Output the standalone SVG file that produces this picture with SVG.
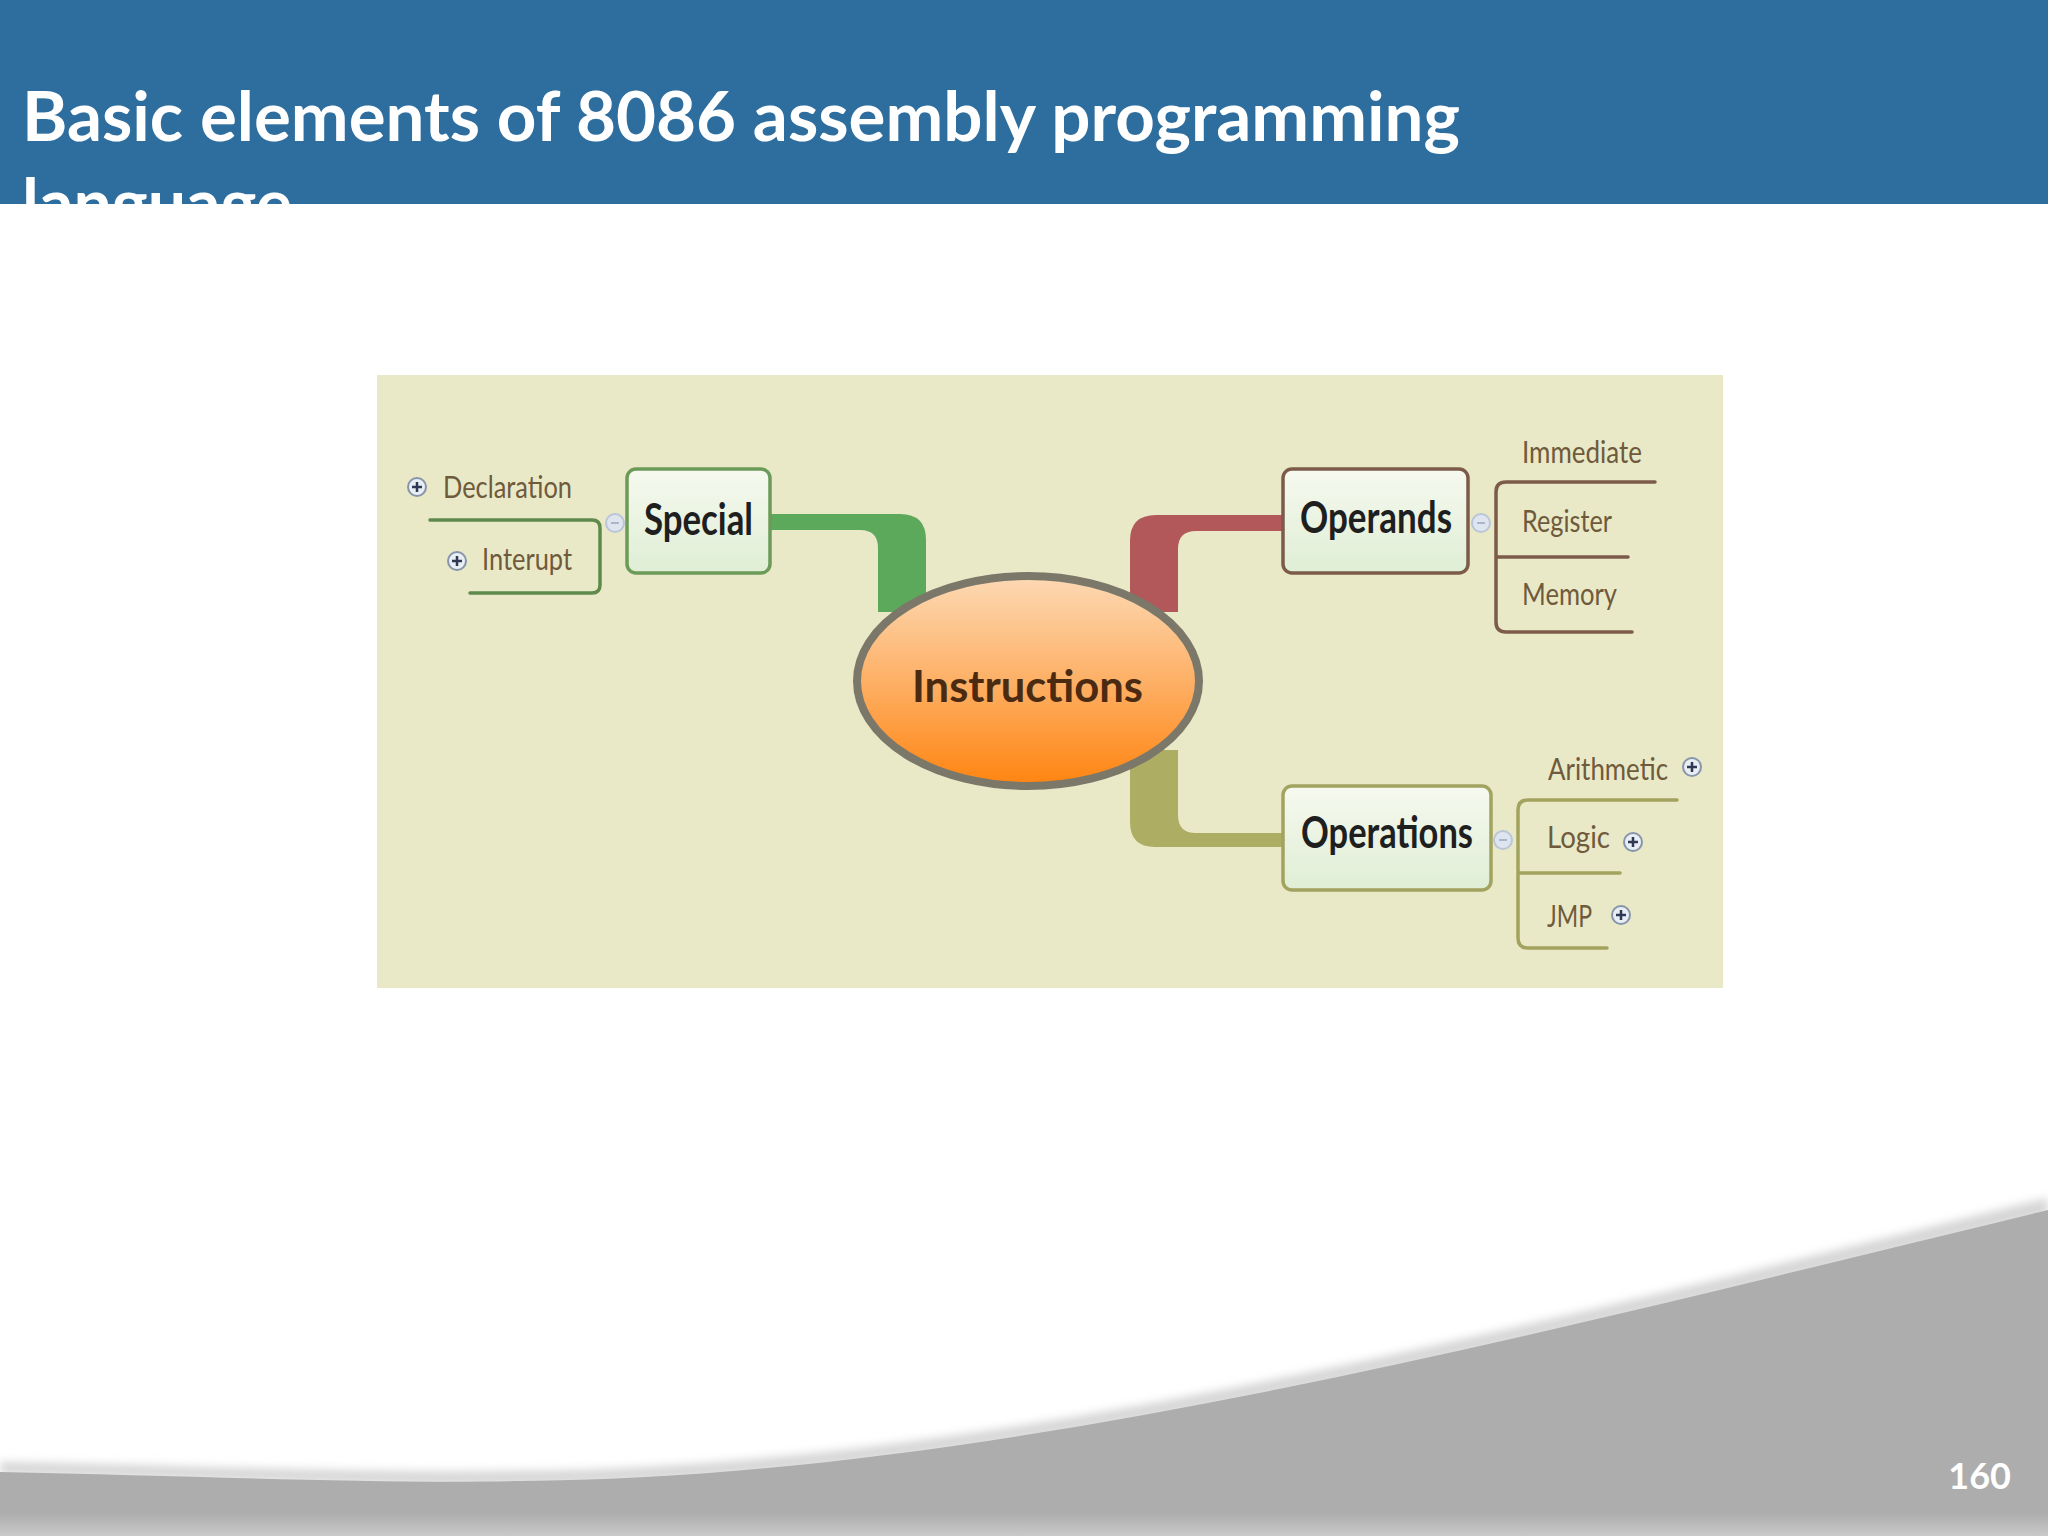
<svg xmlns="http://www.w3.org/2000/svg" width="2048" height="1536" viewBox="0 0 2048 1536">
  <defs>
    <linearGradient id="boxFill" x1="0" y1="0" x2="0" y2="1">
      <stop offset="0" stop-color="#f6f9ef"/>
      <stop offset="1" stop-color="#dfeed5"/>
    </linearGradient>
    <linearGradient id="ellFill" x1="0" y1="0" x2="0" y2="1">
      <stop offset="0" stop-color="#fdd9b4"/>
      <stop offset="0.5" stop-color="#fdb066"/>
      <stop offset="1" stop-color="#ff8410"/>
    </linearGradient>
    <linearGradient id="grayFill" x1="0" y1="0" x2="0" y2="1">
      <stop offset="0" stop-color="#adadad"/>
      <stop offset="0.93" stop-color="#adadad"/>
      <stop offset="1" stop-color="#c9c9c9"/>
    </linearGradient>
    <filter id="blur" x="-5%" y="-20%" width="110%" height="140%">
      <feGaussianBlur stdDeviation="5"/>
    </filter>
    <clipPath id="hdrClip">
      <rect x="0" y="0" width="2048" height="204"/>
    </clipPath>
  </defs>
  <style>
    .title { font-family: Lato, "Open Sans", sans-serif; font-weight: bold; fill: #ffffff; }
    .node { fill: url(#boxFill); stroke-width: 3.5; }
    .nlabel { font-family: Lato, "DejaVu Sans", sans-serif; font-weight: bold; font-size: 44px; fill: #1f1f1f; }
    .sub { font-family: Lato, "DejaVu Sans", sans-serif; font-size: 30px; fill: #6f5a3c; }
    .brk { fill: none; stroke-width: 3.5; stroke-linecap: round; }
    .coll circle { fill: #dfe5ef; stroke: #b9c5d8; stroke-width: 2; }
    .coll path { stroke: #a9b6cc; stroke-width: 2; }
    .plus circle { fill: #e9eef4; stroke: #8795aa; stroke-width: 2; }
    .plus path { stroke: #2e3a55; stroke-width: 2.5; }
  </style>

  <!-- page background -->
  <rect x="0" y="0" width="2048" height="1536" fill="#ffffff"/>

  <!-- bottom swoosh -->
  <path d="M0,1462 C200,1466 380,1474 520,1471 C1000,1468 1550,1320 2048,1198 L2048,1214 C1550,1334 1000,1482 520,1484 C380,1486 200,1478 0,1474 Z" fill="#d4d4d4" filter="url(#blur)"/>
  <path d="M0,1472 C200,1476 380,1484 520,1481 C1000,1478 1550,1330 2048,1210 L2048,1536 L0,1536 Z" fill="url(#grayFill)"/>
  <text x="2011" y="1489" text-anchor="end" font-family="Lato, 'Open Sans', sans-serif" font-weight="bold" font-size="36" fill="#ffffff">160</text>

  <!-- header -->
  <rect x="0" y="0" width="2048" height="204" fill="#2e6e9e"/>
  <g clip-path="url(#hdrClip)">
    <text class="title" x="22" y="141" font-size="68" textLength="1438" lengthAdjust="spacingAndGlyphs">Basic elements of 8086 assembly programming</text>
    <text class="title" x="22" y="228" font-size="68">language</text>
  </g>

  <!-- mind map picture background -->
  <rect x="377" y="375" width="1346" height="613" fill="#e9e9c7"/>

  <!-- connectors -->
  <g id="connectors">
    <path id="branch-special" d="M770,514 H900 Q926,514 926,540 V612 H878 V548 Q878,530 860,530 H770 Z" fill="#5ca95b"/>
    <path id="branch-operands" d="M1283,515 H1156 Q1130,515 1130,541 V612 H1178 V549 Q1178,531 1196,531 H1283 Z" fill="#b3585a"/>
    <path id="branch-operations" d="M1130,750 V822 Q1130,847 1155,847 H1283 V833 H1196 Q1178,833 1178,815 V750 Z" fill="#adad63"/>
    <path id="bracket-special" class="brk" stroke="#5e8b4b" d="M430,520 H592 Q600,520 600,528 V585 Q600,593 592,593 H470"/>
    <path id="bracket-operands" class="brk" stroke="#7c5b4b" d="M1655,482 H1506 Q1496,482 1496,492 V622 Q1496,632 1506,632 H1632 M1496,557 H1628"/>
    <path id="bracket-operations" class="brk" stroke="#a2a35f" d="M1677,800 H1528 Q1518,800 1518,810 V938 Q1518,948 1528,948 H1607 M1518,873 H1620"/>
    <g class="coll"><circle cx="615" cy="523" r="9"/><path d="M611,523 H619"/></g>
    <g class="coll"><circle cx="1481" cy="523" r="9"/><path d="M1477,523 H1485"/></g>
    <g class="coll"><circle cx="1503" cy="840" r="9"/><path d="M1499,840 H1507"/></g>
  </g>

  <!-- central node -->
  <g id="node-instructions">
    <ellipse cx="1028" cy="681" rx="171" ry="105" fill="url(#ellFill)" stroke="#7b786a" stroke-width="8"/>
    <text class="nlabel" x="912" y="702" font-size="52" style="fill:#4a2b12" textLength="231" lengthAdjust="spacingAndGlyphs">Instructions</text>
  </g>

  <g id="node-special">
    <rect class="node" x="627" y="469" width="143" height="104" rx="9" stroke="#6c9a58"/>
    <text class="nlabel" x="644" y="535" textLength="109" lengthAdjust="spacingAndGlyphs">Special</text>
  </g>

  <g id="node-operands">
    <rect class="node" x="1283" y="469" width="185" height="104" rx="9" stroke="#7c5b4b"/>
    <text class="nlabel" x="1300" y="533" textLength="152" lengthAdjust="spacingAndGlyphs">Operands</text>
  </g>

  <g id="node-operations">
    <rect class="node" x="1283" y="786" width="208" height="104" rx="9" stroke="#a2a35f"/>
    <text class="nlabel" x="1301" y="848" textLength="172" lengthAdjust="spacingAndGlyphs">Operations</text>
  </g>

  <g id="node-declaration">
    <g class="plus"><circle cx="417" cy="487" r="9"/><path d="M412,487 H422 M417,482 V492"/></g>
    <text class="sub" x="443" y="498" textLength="129" lengthAdjust="spacingAndGlyphs">Declaration</text>
  </g>
  <g id="node-interupt">
    <g class="plus"><circle cx="457" cy="561" r="9"/><path d="M452,561 H462 M457,556 V566"/></g>
    <text class="sub" x="482" y="570" textLength="90" lengthAdjust="spacingAndGlyphs">Interupt</text>
  </g>

  <g id="node-immediate">
    <text class="sub" x="1522" y="463" textLength="120" lengthAdjust="spacingAndGlyphs">Immediate</text>
  </g>
  <g id="node-register">
    <text class="sub" x="1522" y="532" textLength="90" lengthAdjust="spacingAndGlyphs">Register</text>
  </g>
  <g id="node-memory">
    <text class="sub" x="1522" y="605" textLength="95" lengthAdjust="spacingAndGlyphs">Memory</text>
  </g>

  <g id="node-arithmetic">
    <text class="sub" x="1548" y="780" textLength="120" lengthAdjust="spacingAndGlyphs">Arithmetic</text>
    <g class="plus"><circle cx="1692" cy="767" r="9"/><path d="M1687,767 H1697 M1692,762 V772"/></g>
  </g>
  <g id="node-logic">
    <text class="sub" x="1547" y="848" textLength="63" lengthAdjust="spacingAndGlyphs">Logic</text>
    <g class="plus"><circle cx="1633" cy="842" r="9"/><path d="M1628,842 H1638 M1633,837 V847"/></g>
  </g>
  <g id="node-jmp">
    <text class="sub" x="1547" y="927" textLength="45" lengthAdjust="spacingAndGlyphs">JMP</text>
    <g class="plus"><circle cx="1621" cy="915" r="9"/><path d="M1616,915 H1626 M1621,910 V920"/></g>
  </g>
</svg>
